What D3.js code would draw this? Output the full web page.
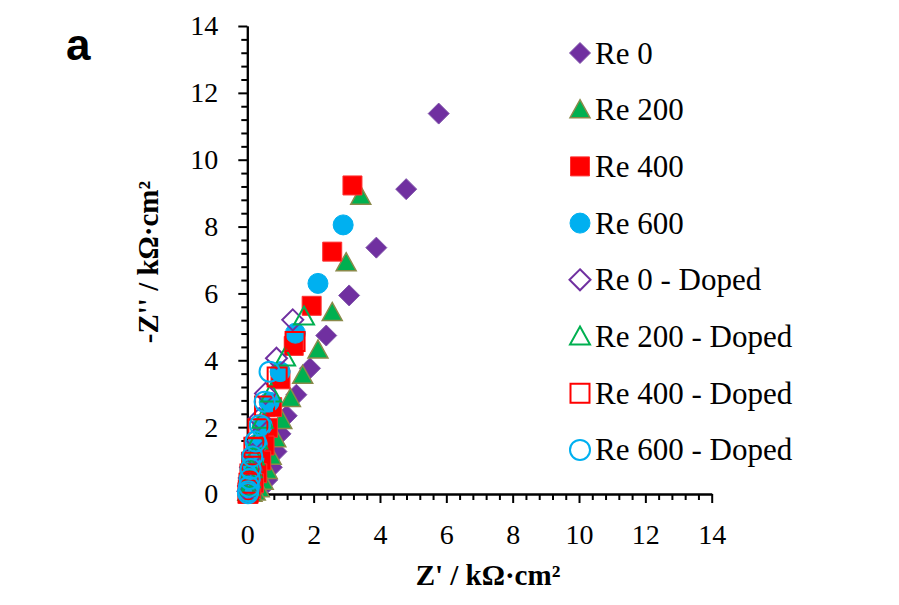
<!DOCTYPE html>
<html>
<head>
<meta charset="utf-8">
<script src="https://cdn.jsdelivr.net/npm/d3@7"></script>
<style>
  body { margin: 0; background: #fff; }
  svg { display: block; }
  text { font-family: "Liberation Serif", "Times New Roman", Times, "DejaVu Serif", serif; }
  .axis text { font-size: 28px; fill: #000; }
  .axis path, .axis line { stroke: #000; stroke-width: 2; }
</style>
</head>
<body>
<div id="app"></div>
<script>
var svgWidth = 899, svgHeight = 605;

// data, [Z', -Z''] in kOhm.cm2
var re0 = [[5.77,11.38],[4.79,9.12],[3.89,7.37],[3.07,5.94],[2.38,4.74],[1.89,3.76],[1.48,2.97],[1.19,2.34],[1.0,1.80],[0.88,1.27],[0.74,0.80],[0.6,0.42],[0.45,0.18],[0.3,0.06],[0.18,0.02]];
var re200 = [[3.42,8.91],[2.98,6.92],[2.56,5.43],[2.13,4.31],[1.67,3.55],[1.30,2.86],[1.04,2.20],[0.86,1.65],[0.72,1.13],[0.6,0.7],[0.48,0.38],[0.36,0.16],[0.24,0.06],[0.14,0.02]];
var re400 = [[3.17,9.23],[2.56,7.25],[1.94,5.63],[1.40,4.43],[1.0,3.43],[0.75,2.6],[0.62,1.98],[0.52,1.45],[0.42,1.0],[0.3,0.62],[0.2,0.32],[0.12,0.15],[0.06,0.05],[0.02,0.0]];
var re600 = [[2.89,8.05],[2.13,6.30],[1.45,4.81],[0.99,3.66],[0.66,2.75],[0.45,2.05],[0.30,1.50],[0.2,1.05],[0.14,0.72],[0.1,0.5],[0.07,0.32],[0.05,0.18],[0.04,0.08],[0.02,0.02]];
var re0Doped = [[1.37,5.21],[0.88,4.06],[0.55,3.01],[0.36,2.25],[0.24,1.65],[0.16,1.18],[0.1,0.8],[0.06,0.48],[0.04,0.24],[0.02,0.08]];
var re200Doped = [[1.71,5.31],[1.14,4.08],[0.72,3.01],[0.46,2.22],[0.3,1.6],[0.2,1.12],[0.13,0.74],[0.08,0.44],[0.05,0.2],[0.03,0.06]];
var re400Doped = [[1.44,4.56],[0.90,3.50],[0.52,2.63],[0.32,1.95],[0.2,1.4],[0.13,0.95],[0.08,0.6],[0.05,0.32],[0.03,0.12],[0.02,0.03]];
var re600Doped = [[0.67,3.66],[0.52,2.76],[0.38,2.06],[0.25,1.57],[0.15,1.12],[0.1,0.75],[0.07,0.45],[0.05,0.22],[0.03,0.08],[0.02,0.02]];

var seriesNames = ["Re 0","Re 200","Re 400","Re 600","Re 0 - Doped","Re 200 - Doped","Re 400 - Doped","Re 600 - Doped"];
var majorTicks = [0,2,4,6,8,10,12,14];

var series = [
  {name: seriesNames[0], data: re0,        shape: "diamond",  fill: "#7030A0", stroke: "#8055AA", sw: 1},
  {name: seriesNames[1], data: re200,      shape: "triangle", fill: "#00B050", stroke: "#8A8A4A", sw: 1.5},
  {name: seriesNames[2], data: re400,      shape: "square",   fill: "#FF0000", stroke: "#FF3030", sw: 1},
  {name: seriesNames[3], data: re600,      shape: "circle",   fill: "#00B0F0", stroke: "#00B0F0", sw: 1},
  {name: seriesNames[4], data: re0Doped,   shape: "diamond",  fill: "none",    stroke: "#7030A0", sw: 2},
  {name: seriesNames[5], data: re200Doped, shape: "triangle", fill: "none",    stroke: "#00B050", sw: 2},
  {name: seriesNames[6], data: re400Doped, shape: "square",   fill: "none",    stroke: "#FF0000", sw: 2},
  {name: seriesNames[7], data: re600Doped, shape: "circle",   fill: "none",    stroke: "#00B0F0", sw: 2}
];

var margin = {top: 26, left: 247.3, right: 187.3, bottom: 111};

var svg = d3.select("#app").append("svg")
    .attr("width", svgWidth)
    .attr("height", svgHeight);

var x = d3.scaleLinear().domain([0,14]).range([margin.left, svgWidth - margin.right]);
var y = d3.scaleLinear().domain([0,14]).range([svgHeight - margin.bottom, margin.top]);

function markerPath(shape, r) {
    if (shape == "diamond") return "M0," + (-r) + "L" + r + ",0L0," + r + "L" + (-r) + ",0Z";
    if (shape == "square") return "M" + (-r) + "," + (-r) + "H" + r + "V" + r + "H" + (-r) + "Z";
    if (shape == "triangle") return "M0," + (-r) + "L" + r + "," + (r*0.8) + "L" + (-r) + "," + (r*0.8) + "Z";
    return d3.arc()({innerRadius: 0, outerRadius: r, startAngle: 0, endAngle: 2*Math.PI});
}
var markerSize = {diamond: 10.5, square: 9.5, triangle: 10, circle: 10};

// minor ticks every 0.4
var minorTicks = d3.range(0, 14.01, 0.4).filter(function(v){ return Math.abs(v/2 - Math.round(v/2)) > 0.01; });

svg.append("g").attr("class","axis")
    .attr("transform","translate(0," + y(0) + ")")
    .call(d3.axisBottom(x).tickValues(minorTicks).tickSize(6).tickSizeOuter(0).tickFormat(""));
svg.append("g").attr("class","axis")
    .attr("transform","translate(" + x(0) + ",0)")
    .call(d3.axisLeft(y).tickValues(minorTicks).tickSize(6).tickSizeOuter(0).tickFormat(""));

svg.append("g").attr("class","axis")
    .attr("transform","translate(0," + y(0) + ")")
    .call(d3.axisBottom(x).tickValues(majorTicks).tickSize(9).tickSizeOuter(0).tickPadding(21));
svg.append("g").attr("class","axis")
    .attr("transform","translate(" + x(0) + ",0)")
    .call(d3.axisLeft(y).tickValues(majorTicks).tickSize(9).tickSizeOuter(0).tickPadding(20));
svg.selectAll(".axis").attr("font-family", null);

// points
series.forEach(function(s) {
    svg.append("g").selectAll("path")
        .data(s.data)
        .enter().append("path")
        .attr("d", markerPath(s.shape, markerSize[s.shape]))
        .attr("transform", function(d){ return "translate(" + x(d[0]) + "," + y(d[1]) + ")"; })
        .attr("fill", s.fill)
        .attr("stroke", s.stroke)
        .attr("stroke-width", s.sw);
});

// legend
var legend = svg.append("g").attr("transform","translate(580,53)");
var rows = legend.selectAll("g").data(series).enter().append("g")
    .attr("transform", function(d,i){ return "translate(0," + (i*56.7) + ")"; });
rows.append("path")
    .attr("d", function(d){ return markerPath(d.shape, markerSize[d.shape]); })
    .attr("fill", function(d){ return d.fill; })
    .attr("stroke", function(d){ return d.stroke; })
    .attr("stroke-width", function(d){ return d.sw; });
rows.append("text")
    .attr("x", 15).attr("y", 10.5)
    .style("font-size", "31px")
    .text(function(d){ return d.name; });

// axis titles
svg.append("text")
    .attr("x", 488).attr("y", 585)
    .attr("text-anchor","middle")
    .style("font-size", "29px").style("font-weight","bold")
    .text("Z' / k\u03A9\u00B7cm\u00B2");
svg.append("text")
    .attr("transform","translate(158,262) rotate(-90)")
    .attr("text-anchor","middle")
    .style("font-size", "29px").style("font-weight","bold")
    .text("-Z'' / k\u03A9\u00B7cm\u00B2");

svg.append("text")
    .attr("x", 66).attr("y", 60)
    .style("font-family", "'Liberation Sans', Arial, sans-serif")
    .style("font-size", "44px").style("font-weight","bold")
    .text("a");
</script>
</body>
</html>
